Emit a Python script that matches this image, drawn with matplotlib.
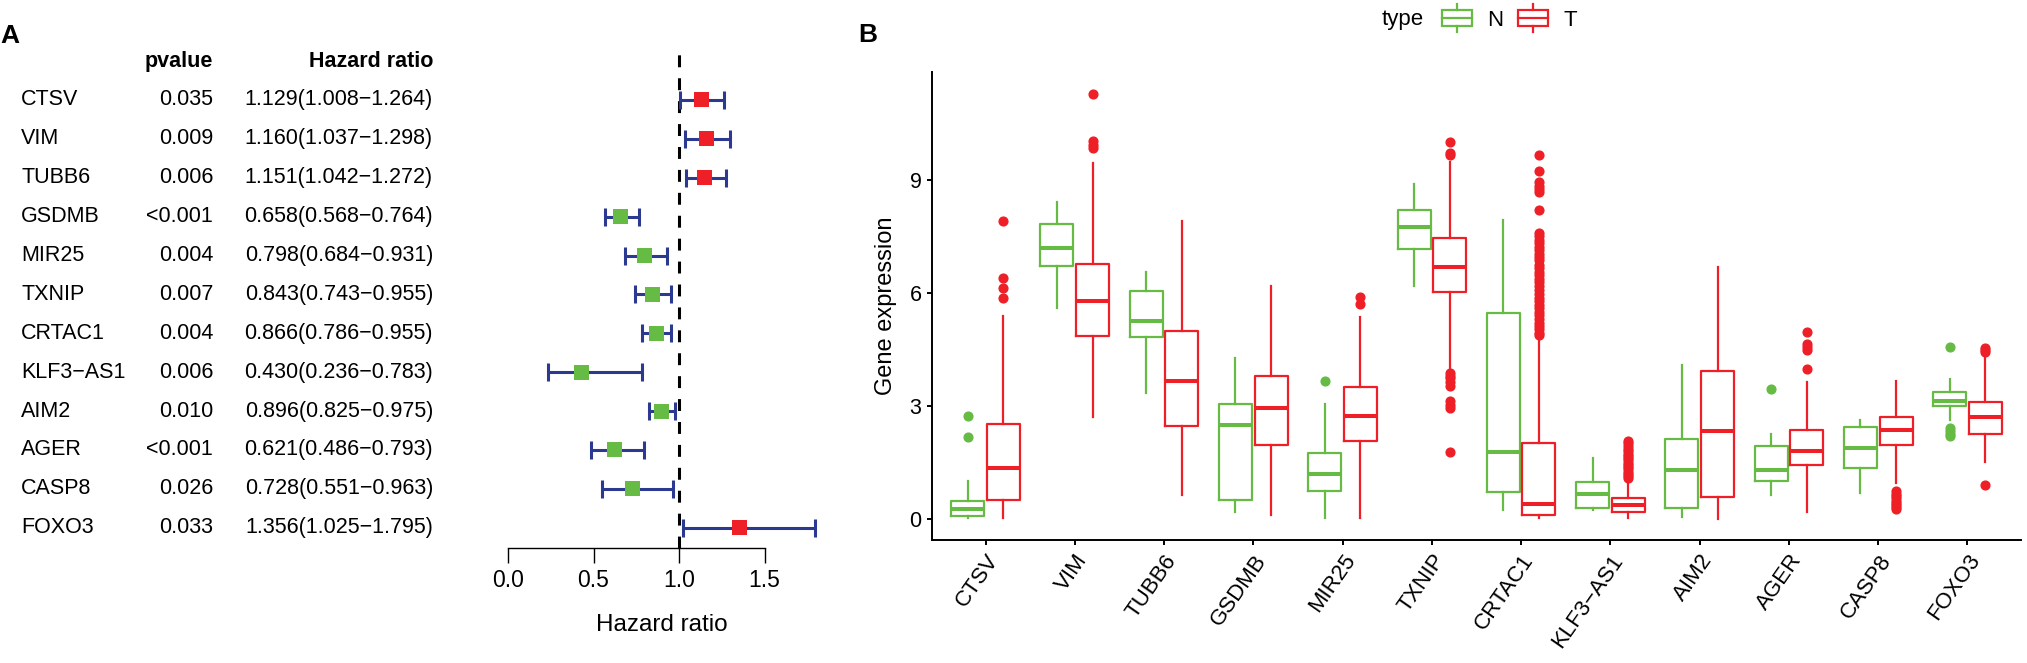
import numpy as np
import matplotlib
matplotlib.use("Agg")
import matplotlib.pyplot as plt
from matplotlib.transforms import blended_transform_factory
from matplotlib.legend_handler import HandlerBase
from matplotlib.patches import Rectangle, Patch
from matplotlib.lines import Line2D

plt.rcParams['font.family'] = ['Liberation Sans', 'DejaVu Sans']

# ---- panel A: univariate cox results ----
genes = ['CTSV', 'VIM', 'TUBB6', 'GSDMB', 'MIR25', 'TXNIP', 'CRTAC1',
         'KLF3-AS1', 'AIM2', 'AGER', 'CASP8', 'FOXO3']
pvalues = ['0.035', '0.009', '0.006', '<0.001', '0.004', '0.007', '0.004',
           '0.006', '0.010', '<0.001', '0.026', '0.033']
hr = np.array([1.129, 1.160, 1.151, 0.658, 0.798, 0.843, 0.866, 0.430, 0.896, 0.621, 0.728, 1.356])
hr_low = np.array([1.008, 1.037, 1.042, 0.568, 0.684, 0.743, 0.786, 0.236, 0.825, 0.486, 0.551, 1.025])
hr_high = np.array([1.264, 1.298, 1.272, 0.764, 0.931, 0.955, 0.955, 0.783, 0.975, 0.793, 0.963, 1.795])

# ---- panel B: expression box stats (N = normal, T = tumour) ----
n_whislo = [0.02, 5.60, 3.34, 0.17, 0.02, 6.18, 0.24, 0.24, 0.05, 0.62, 0.69, 2.63]
n_q1 = [0.06, 6.70, 4.82, 0.50, 0.73, 7.17, 0.72, 0.29, 0.29, 1.01, 1.34, 2.99]
n_med = [0.25, 7.19, 5.24, 2.49, 1.18, 7.76, 1.78, 0.66, 1.30, 1.29, 1.87, 3.14]
n_q3 = [0.47, 7.84, 6.05, 3.05, 1.74, 8.21, 5.47, 0.98, 2.12, 1.93, 2.44, 3.36]
n_whishi = [1.01, 8.40, 6.55, 4.26, 3.05, 8.90, 7.94, 1.62, 4.09, 2.24, 2.61, 3.70]
n_fliers = [[2.16, 2.74], [], [], [], [3.67], [], [], [], [], [3.45], [],
            [4.57, 2.41, 2.33, 2.26, 2.20]]

t_whislo = [0.02, 2.69, 0.62, 0.11, 0.02, 3.92, 0.03, 0.03, 0.0, 0.19, 0.95, 1.51]
t_q1 = [0.50, 4.84, 2.46, 1.96, 2.07, 6.01, 0.11, 0.18, 0.58, 1.43, 1.96, 2.26]
t_med = [1.34, 5.77, 3.67, 2.95, 2.74, 6.69, 0.40, 0.36, 2.34, 1.81, 2.35, 2.69]
t_q3 = [2.52, 6.77, 4.98, 3.78, 3.50, 7.45, 2.02, 0.56, 3.93, 2.35, 2.69, 3.10]
t_whishi = [5.38, 9.46, 7.90, 6.18, 5.35, 9.48, 4.82, 1.02, 6.69, 3.64, 3.66, 4.37]
t_fliers = [
    [5.85, 6.13, 6.40, 7.90],
    [9.85, 9.93, 10.02, 11.29],
    [],
    [],
    [5.69, 5.90],
    [10.0, 9.71, 9.65, 3.86, 3.80, 3.75, 3.64, 3.53, 3.14, 3.02, 2.93, 1.77],
    [9.66, 9.24, 8.95, 8.85, 8.75, 8.68, 8.20, 7.59, 7.50, 7.41, 7.33, 7.22,
     7.14, 7.03, 6.95, 6.86, 6.74, 6.66, 6.55, 6.47, 6.36, 6.28, 6.17, 6.08,
     5.98, 5.87, 5.79, 5.68, 5.60, 5.49, 5.41, 5.30, 5.21, 5.12, 5.03, 4.94, 4.87],
    [2.07, 2.00, 1.93, 1.86, 1.80, 1.73, 1.67, 1.61, 1.55, 1.49, 1.43, 1.37,
     1.31, 1.25, 1.19, 1.13, 1.08],
    [],
    [3.98, 4.48, 4.57, 4.65, 4.95],
    [0.73, 0.66, 0.60, 0.54, 0.48, 0.42, 0.36, 0.30, 0.25],
    [4.42, 4.48, 4.54, 0.90],
]

green = '#66BB44'
red = '#EE1F26'
navy = '#2B3990'

W, H = 2027, 663


def fig_rect(left, top, right, bottom):
    return [left / W, 1 - bottom / H, (right - left) / W, (bottom - top) / H]


fig = plt.figure(figsize=(W / 100, H / 100), dpi=100)

# Forest plot
axf = fig.add_axes(fig_rect(465.25, 49.4, 841.5, 548))
rows = np.arange(len(genes))
axf.set_xlim(-0.25, 1.95)
axf.set_ylim(11.52, -1.3)
axf.axvline(1.0, ymin=0, ymax=(548 - 53) / (548 - 49.4), color='black', lw=2.2,
            ls=(0, (3.9, 3.6)), zorder=1)
axf.errorbar(hr, rows, xerr=[hr - hr_low, hr_high - hr], fmt='none', ecolor=navy,
             elinewidth=2.2, capsize=6.5, capthick=2.2, zorder=2)
axf.scatter(hr, rows, marker='s', s=10.8 ** 2, c=np.where(hr > 1, red, green),
            linewidths=0, zorder=3)
for side in ['left', 'top', 'right']:
    axf.spines[side].set_visible(False)
axf.spines['bottom'].set_bounds(0, 1.5)
axf.spines['bottom'].set_linewidth(1.0)
axf.set_yticks([])
axf.set_xticks([0, 0.5, 1.0, 1.5])
axf.set_xticklabels(['0.0', '0.5', '1.0', '1.5'])
axf.tick_params(axis='x', length=10.8, width=1.0, pad=4, labelsize=16.5)
axf.text((662 - 465.25) / 376.25, (548 - 625) / 498.6, 'Hazard ratio',
         transform=axf.transAxes, ha='center', va='center', fontsize=17.5)

trans = blended_transform_factory(fig.transFigure, axf.transData)
axf.text(213 / W, -1, 'pvalue', transform=trans, ha='right', va='center',
         fontsize=15.5, fontweight='bold')
axf.text(433 / W, -1, 'Hazard ratio', transform=trans, ha='right', va='center',
         fontsize=15.5, fontweight='bold')
for i, g in enumerate(genes):
    axf.text(21 / W, i, g.replace('-', '\u2212'), transform=trans, ha='left',
             va='center', fontsize=15.5)
    axf.text(213 / W, i, pvalues[i], transform=trans, ha='right', va='center',
             fontsize=15.5)
    hr_txt = f'{hr[i]:.3f}({hr_low[i]:.3f}\u2212{hr_high[i]:.3f})'
    axf.text(433 / W, i, hr_txt, transform=trans, ha='right', va='center',
             fontsize=15.5)

# Boxplots
axb = fig.add_axes(fig_rect(932, 72, 2021, 540))
x = np.arange(len(genes))


def make_stats(lo, q1, med, q3, hi, fl):
    return [dict(whislo=a, q1=b, med=c, q3=d, whishi=e, fliers=f)
            for a, b, c, d, e, f in zip(lo, q1, med, q3, hi, fl)]


for stats, offset, col in [
        (make_stats(n_whislo, n_q1, n_med, n_q3, n_whishi, n_fliers), -0.2, green),
        (make_stats(t_whislo, t_q1, t_med, t_q3, t_whishi, t_fliers), 0.2, red)]:
    axb.bxp(stats, positions=x + offset, widths=0.37, showcaps=False,
            manage_ticks=False,
            boxprops=dict(color=col, lw=1.6),
            whiskerprops=dict(color=col, lw=1.6),
            medianprops=dict(color=col, lw=2.9, solid_capstyle='butt'),
            flierprops=dict(marker='o', markerfacecolor=col, markeredgecolor=col,
                            markersize=6.3))

axb.set_xlim(-0.6, 11.6)
axb.set_ylim(-0.565, 11.865)
for side in ['top', 'right']:
    axb.spines[side].set_visible(False)
for side in ['left', 'bottom']:
    axb.spines[side].set_linewidth(1.4)
axb.set_yticks([0, 3, 6, 9])
axb.set_xticks(x)
axb.set_xticklabels([g.replace('-', '\u2212') for g in genes], rotation=55,
                    ha='right', va='top', rotation_mode='anchor')
axb.tick_params(axis='both', length=3.6, width=1.4, labelsize=16)
axb.tick_params(axis='x', pad=4)
axb.tick_params(axis='y', pad=4, labelsize=15.5)
axb.set_ylabel('Gene expression', fontsize=17)
axb.yaxis.set_label_coords(-0.032, 0.5)


class BoxKey(HandlerBase):
    def create_artists(self, legend, orig_handle, xdescent, ydescent, width,
                       height, fontsize, trans):
        c = orig_handle.get_edgecolor()
        x0, y0 = -xdescent, -ydescent
        cx = x0 + width / 2
        box = Rectangle((x0, y0), width, height, fill=False, ec=c, lw=1.6,
                        transform=trans)
        mid = Line2D([x0, x0 + width], [y0 + height / 2] * 2, color=c, lw=1.6,
                     transform=trans)
        up = Line2D([cx, cx], [y0 + height, y0 + 1.35 * height], color=c, lw=1.6,
                    transform=trans)
        dn = Line2D([cx, cx], [y0 - 0.35 * height, y0], color=c, lw=1.6,
                    transform=trans)
        return [box, mid, up, dn]


handles = [Patch(edgecolor=green, facecolor='none'), Patch(edgecolor=red, facecolor='none')]
fig.text(1382 / W, 1 - 20 / H, 'type', ha='left', va='center', fontsize=16)
fig.legend(handles, ['N', 'T'], loc='center left',
           bbox_to_anchor=(1442 / W, 1 - 20 / H), ncol=2, frameon=False,
           borderpad=0, borderaxespad=0, handlelength=1.35, handleheight=0.76,
           handletextpad=0.68, columnspacing=0.68, fontsize=16,
           handler_map={Patch: BoxKey()})

fig.text(0 / W, 1 - 36 / H, 'A', ha='left', va='center', fontsize=19, fontweight='bold')
fig.text(868 / W, 1 - 35 / H, 'B', ha='center', va='center', fontsize=19, fontweight='bold')

fig.savefig('out.png', dpi=100)
